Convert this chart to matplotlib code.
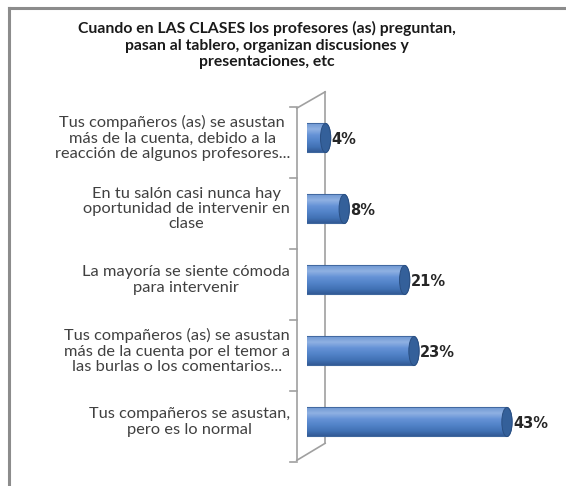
import numpy as np
import matplotlib.pyplot as plt
from matplotlib.patches import Polygon, Ellipse
from matplotlib.lines import Line2D
from matplotlib.colors import LinearSegmentedColormap

plt.rcParams['font.family'] = ['Lato', 'DejaVu Sans']

title = ('Cuando en LAS CLASES los profesores (as) preguntan,\n'
         'pasan al tablero, organizan discusiones y\n'
         'presentaciones, etc')
categories = [
    'Tus compañeros (as) se asustan\nmás de la cuenta, debido a la\nreacción de algunos profesores...',
    'En tu salón casi nunca hay\noportunidad de intervenir en\nclase',
    'La mayoría se siente cómoda\npara intervenir',
    'Tus compañeros (as) se asustan\nmás de la cuenta por el temor a\nlas burlas o los comentarios...',
    'Tus compañeros se asustan,\npero es lo normal',
]
values = [4, 8, 21, 23, 43]
labels = ['4%', '8%', '21%', '23%', '43%']

W, H = 566, 486
fig = plt.figure(figsize=(W / 100, H / 100), dpi=100)

# plot area: zero at x=307px, 4.65 px per %, rows 71 px apart
ax = fig.add_axes([307 / W, 28.5 / H, 232.5 / W, 355 / H])
ax.set_xlim(0, 50)
ax.set_ylim(4.5, -0.5)
ax.axis('off')

fig.text(267 / W, 1 - 45 / H, title, ha='center', va='center', fontsize=11.3,
         fontweight='bold', color='#1a1a1a', linespacing=1.22)

# wall (back plane) drawn in data units
wall = '#a0a0a0'
fx, bx = -2.2, 3.9
ax.add_line(Line2D([fx, fx], [-0.42, 4.54], color=wall, lw=1.2, clip_on=False))
ax.add_line(Line2D([bx, bx], [-0.65, 4.30], color=wall, lw=1.2, clip_on=False))
ax.add_line(Line2D([fx, bx], [-0.42, -0.65], color=wall, lw=1.2, clip_on=False))
ax.add_line(Line2D([fx, bx], [4.54, 4.30], color=wall, lw=1.2, clip_on=False))
for k in range(6):
    ty = k - 0.44
    ax.add_line(Line2D([fx - 1.5, fx], [ty, ty], color=wall, lw=1.2, clip_on=False))

# cylinders
h = 0.41
rx = 1.1
grad = np.linspace(0, 1, 100).reshape(-1, 1)
cmap = LinearSegmentedColormap.from_list(
    'cyl', ['#6f97d2', '#8fb1e2', '#6592d6', '#5283c8', '#4272b5', '#2f5690'])
t1 = np.linspace(np.pi / 2, 3 * np.pi / 2, 30)
t2 = np.linspace(-np.pi / 2, np.pi / 2, 30)
for i, v in enumerate(values):
    y = i
    pts = np.vstack([
        np.column_stack([rx * np.cos(t1), y + h / 2 * np.sin(t1)]),
        np.column_stack([v + rx * np.cos(t2), y - h / 2 * np.sin(t2)[::-1]]),
    ])
    poly = Polygon(pts, closed=True, facecolor='none', edgecolor='#3a639c', lw=0.7, zorder=3)
    ax.add_patch(poly)
    im = ax.imshow(grad, extent=(-rx, v + rx, y + h / 2, y - h / 2), cmap=cmap,
                   aspect='auto', zorder=2)
    im.set_clip_path(poly)
    cap = Ellipse((v, y), 2 * rx, h, facecolor='#34609a', edgecolor='#2a4f82', lw=0.7, zorder=4)
    ax.add_patch(cap)
    ax.text(v + rx + 0.2, y + 0.02, labels[i], ha='left', va='center', fontsize=10.5,
            fontweight='bold', color='#262626', family='DejaVu Sans')
    ax.text(-3.66, y, categories[i], ha='right', va='center', multialignment='center',
            fontsize=11.8, color='#404040', linespacing=1.1)

ax.set_xlim(0, 50)
ax.set_ylim(4.5, -0.5)

# outer frame
fc = '#8c8c8c'
fig.add_artist(Line2D([8.5 / W, 1], [1 - 8.5 / H, 1 - 8.5 / H], color=fc, lw=2.2))
fig.add_artist(Line2D([8.5 / W, 8.5 / W], [0, 1 - 8.5 / H], color=fc, lw=2.2))

fig.savefig('out.png', dpi=100)
